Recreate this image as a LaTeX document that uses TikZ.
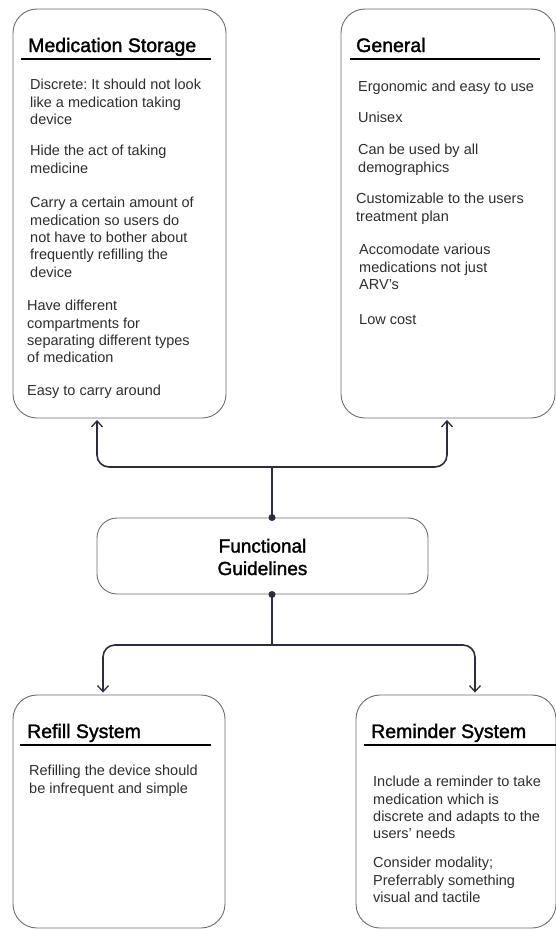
\documentclass[tikz,border=0pt]{standalone}
\usepackage{fontspec}
\setmainfont{Liberation Sans}
\newfontfamily\medfont{Liberation Sans}[FakeBold=1.6]
\frenchspacing
\usetikzlibrary{arrows.meta}
\definecolor{conn}{HTML}{2B2D3F}
\definecolor{boxline}{HTML}{6E6E6E}
\definecolor{bodytext}{HTML}{2E2E2E}
\tikzset{
  card/.style={draw=boxline, line width=0.9pt, rounded corners=24pt, fill=white, inner sep=0pt},
  hdr/.style={anchor=base west, inner sep=0pt, font={\medfont\fontsize{19.5}{22}\selectfont}, text=black},
  item/.style={anchor=north west, inner sep=0pt, align=left, font={\fontsize{14.5}{17.4}\selectfont}, text=bodytext, execute at begin node={\rule{0pt}{12pt}}},
  rule/.style={line width=2pt, black},
  link/.style={draw=conn, line width=1.6pt, rounded corners=12pt},
  tip/.style={-{Straight Barb[length=6pt, width=11pt, line width=1.3pt]}},
  knob/.style={circle, fill=conn, inner sep=0pt, minimum size=7pt}
}
\begin{document}
\begin{tikzpicture}[x=1pt, y=-1pt]
\useasboundingbox[fill=white] (0,0) rectangle (556,930);

% boxes
\node[card, minimum width=213pt, minimum height=409pt] (ms) at (119.5,213.5) {};
\node[card, minimum width=214pt, minimum height=409pt] (gen) at (448,213.5) {};
\node[card, rounded corners=20pt, minimum width=331pt, minimum height=76pt] (fg) at (262.5,556) {};
\node[card, minimum width=212pt, minimum height=233pt] (rf) at (119,811.5) {};
\node[card, minimum width=200pt, minimum height=233pt] (rm) at (456,811.5) {};

% functional guidelines text
\node[align=center, inner sep=0pt, font={\medfont\fontsize{19}{22.5}\selectfont}] (fgt) at (262.5,557) {Functional\\Guidelines};

% Medication storage
\node[hdr] (msh) at (28,52) {Medication Storage};
\coordinate (msu1) at (21,59);
\coordinate (msu2) at (211,59);
\draw[rule] (msu1) -- (msu2);
\node[item] (ms1) at (30,79) {Discrete: It should not look\\like a medication taking\\device};
\node[item] (ms2) at (30,145) {Hide the act of taking\\medicine};
\node[item] (ms3) at (30,197) {Carry a certain amount of\\medication so users do\\not have to bother about\\frequently refilling the\\device};
\node[item] (ms4) at (27,300) {Have different\\compartments for\\separating different types\\of medication};
\node[item] (ms5) at (27,383) {Easy to carry around};

% General
\node[hdr] (genh) at (356,52) {General};
\coordinate (gu1) at (350,59);
\coordinate (gu2) at (540,59);
\draw[rule] (gu1) -- (gu2);
\node[item] (g1) at (358,79) {Ergonomic and easy to use};
\node[item] (g2) at (358,110) {Unisex};
\node[item] (g3) at (358,144) {Can be used by all\\demographics};
\node[item] (g4) at (356,193) {Customizable to the users\\treatment plan};
\node[item] (g5) at (359,244) {Accomodate various\\medications not just\\ARV’s};
\node[item] (g6) at (359,312) {Low cost};

% Refill system
\node[hdr] (rfh) at (27,738) {Refill System};
\coordinate (ru1) at (20,745);
\coordinate (ru2) at (211,745);
\draw[rule] (ru1) -- (ru2);
\node[item] (rf1) at (29,765) {Refilling the device should\\be infrequent and simple};

% Reminder system
\node[hdr] (rmh) at (371,738) {Reminder System};
\coordinate (mu1) at (364,745);
\coordinate (mu2) at (556,745);
\draw[rule] (mu1) -- (mu2);
\node[item] (rm1) at (373,776) {Include a reminder to take\\medication which is\\discrete and adapts to the\\users’ needs};
\node[item] (rm2) at (373,857) {Consider modality;\\Preferrably something\\visual and tactile};

% connectors
\coordinate (topj) at (272,467);
\coordinate (botj) at (272,645);
\node[knob] (k1) at ([xshift=9.5pt]fg.north) {};
\node[knob] (k2) at ([xshift=9.5pt]fg.south) {};
\draw[link] (k1.center) -- (topj);
\draw[link, tip] (topj) -| ([xshift=-22.5pt, yshift=-1.5pt]ms.south);
\draw[link, tip] (topj) -| ([xshift=-1pt, yshift=-1.5pt]gen.south);
\draw[link] (k2.center) -- (botj);
\draw[link, tip] (botj) -| ([xshift=-16pt, yshift=2pt]rf.north);
\draw[link, tip] (botj) -| ([xshift=19pt, yshift=2pt]rm.north);
\end{tikzpicture}
\end{document}
